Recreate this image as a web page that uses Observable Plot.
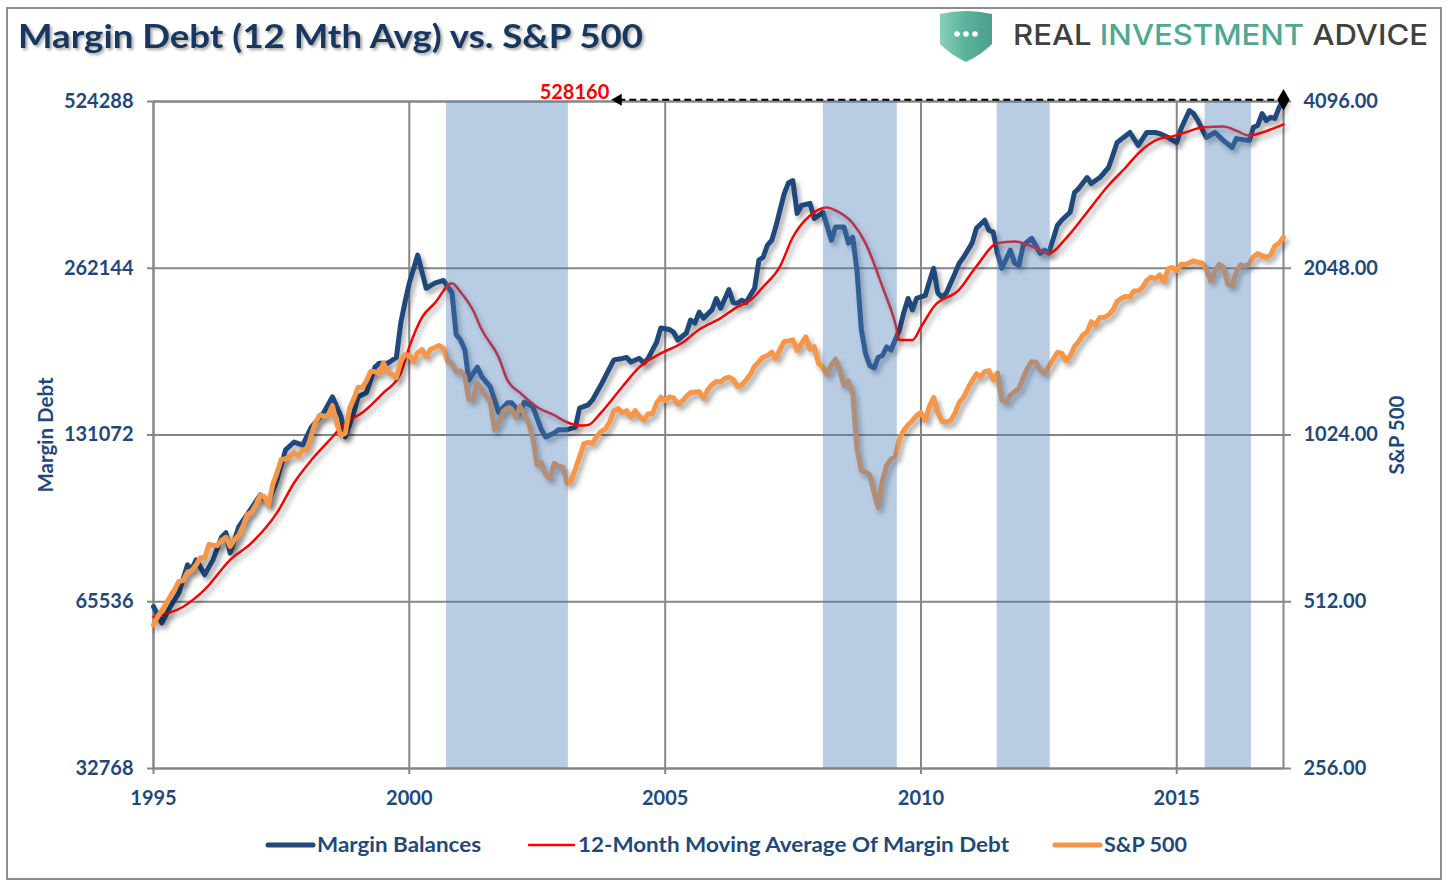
<!DOCTYPE html>
<html>
<head>
<meta charset="utf-8">
<script src="https://cdn.jsdelivr.net/npm/d3@7"></script>
<script src="https://cdn.jsdelivr.net/npm/@observablehq/plot@0.6"></script>
<style>
  html, body { margin: 0; padding: 0; background: #fff; }
  #page { position: relative; width: 1448px; height: 889px; overflow: hidden; font-family: Lato, "Open Sans", sans-serif; }
  #chart { position: absolute; left: 0; top: 0; }
  #deco { position: absolute; left: 0; top: 0; pointer-events: none; }
  #chart g[aria-label="line"] { filter: drop-shadow(3px 4px 2.5px rgba(0,0,0,0.35)); }
  .title { filter: drop-shadow(2px 2px 1.5px rgba(0,0,0,0.35)); }
</style>
</head>
<body>
<div id="page">
  <div id="chart"></div>
  <svg id="deco" width="1448" height="889"></svg>
</div>
<script>
// ---------------- DATA ----------------
// Margin balances (NYSE margin debt, $ millions)
const marginDates = [
  "1995-01","1995-03","1995-05","1995-07","1995-09","1995-10","1995-11","1996-01","1996-03","1996-05",
  "1996-06","1996-07","1996-09","1996-12","1997-02","1997-04","1997-06","1997-08","1997-10","1997-12",
  "1998-02","1998-05","1998-07","1998-09","1998-10","1998-12","1999-01","1999-03","1999-05","1999-06",
  "1999-08","1999-10","1999-11","1999-12","2000-01","2000-03","2000-05","2000-07","2000-09","2000-11",
  "2000-12","2001-01","2001-02","2001-03","2001-05","2001-06","2001-08","2001-10","2001-12","2002-01",
  "2002-03","2002-04","2002-06","2002-08","2002-09","2002-11","2002-12","2003-02","2003-04","2003-05",
  "2003-07","2003-08","2003-10","2003-12","2004-01","2004-03","2004-04","2004-05","2004-07","2004-08",
  "2004-09","2004-11","2004-12","2005-02","2005-03","2005-04","2005-06","2005-07","2005-08","2005-09",
  "2005-10","2005-12","2006-01","2006-02","2006-04","2006-05","2006-06","2006-07","2006-08","2006-10",
  "2006-11","2006-12","2007-01","2007-02","2007-03","2007-05","2007-06","2007-07","2007-08","2007-09",
  "2007-11","2007-12","2008-01","2008-02","2008-04","2008-05","2008-07","2008-08","2008-09","2008-10",
  "2008-11","2008-12","2009-01","2009-02","2009-03","2009-04","2009-05","2009-06","2009-08","2009-09",
  "2009-10","2009-11","2009-12","2010-02","2010-03","2010-04","2010-05","2010-06","2010-07","2010-09",
  "2010-10","2010-11","2011-01","2011-02","2011-04","2011-05","2011-06","2011-07","2011-08","2011-10",
  "2011-11","2011-12","2012-01","2012-03","2012-05","2012-06","2012-07","2012-09","2012-10","2012-12",
  "2013-01","2013-02","2013-04","2013-05","2013-07","2013-09","2013-10","2013-11","2014-02","2014-04",
  "2014-06","2014-08","2014-09","2014-11","2015-01","2015-02","2015-04","2015-05","2015-06","2015-08",
  "2015-10","2015-12","2016-02","2016-03","2016-06","2016-07","2016-08","2016-09","2016-10","2016-11",
  "2016-12","2017-01","2017-02"
];
const marginValues = [
  64200,60000,64200,68000,76400,74900,78000,73300,78000,85800,
  87300,80300,89500,96700,102200,98800,108800,123200,127300,125700,
  135500,143900,153600,141500,130000,143900,153600,156300,173800,176700,
  176700,180900,208700,227300,246400,276800,241200,246400,249200,236600,
  198900,194500,186600,164700,173800,167100,160200,143900,149800,149800,
  143900,150300,147300,134000,130000,132200,134000,134000,135500,146600,
  148600,151600,161500,173100,179100,180200,180900,177500,180200,176700,
  180200,192900,204500,203200,201100,194500,200300,211300,208700,218400,
  213100,220500,231200,222000,239900,227300,226700,229400,227300,241200,
  271100,274400,288500,294500,311100,357700,374200,377400,329300,340300,
  343300,322600,326500,330800,294500,311100,311100,291000,298200,260000,
  203200,184000,174900,173100,180900,182400,189000,186600,203200,218400,
  231200,220500,231200,234100,247500,262100,236600,232300,236600,256700,
  267700,274400,291000,309500,320000,307100,304600,278900,262100,282600,
  267700,265300,288500,296900,278900,282600,278900,313400,320000,330800,
  359100,365400,382200,372800,382200,398500,418900,442000,460900,436700,
  460900,460900,458800,451400,442000,468700,504900,498600,484400,451400,
  460900,445600,433100,449300,445600,470800,474600,498600,484400,490900,
  488600,511300,528160
];

// 12-month moving average of margin debt ($ millions)
const maDates = [
  "1995-01","1995-08","1996-01","1996-07","1996-12","1997-06","1997-10","1998-02","1998-07","1998-10",
  "1999-02","1999-07","1999-11","2000-01","2000-04","2000-07","2000-11","2001-01","2001-04","2001-06",
  "2001-10","2001-12","2002-03","2002-07","2002-11","2003-02","2003-05","2003-07","2003-10","2004-03",
  "2004-07","2004-12","2005-05","2005-09","2006-02","2006-06","2006-09","2006-12","2007-04","2007-07",
  "2007-11","2008-03","2008-05","2008-09","2008-12","2009-04","2009-07","2009-08","2009-11","2010-01",
  "2010-04","2010-10","2011-02","2011-07","2011-11","2012-03","2012-07","2012-11","2013-04","2013-09",
  "2014-01","2014-04","2014-09","2014-12","2015-03","2015-07","2015-12","2016-03","2016-06","2016-09",
  "2017-02"
];
const maValues = [
  61600,64200,68900,78000,83700,94900,107500,118100,130000,137700,
  143900,156300,169400,189000,213700,226700,246400,237500,219900,203200,
  180900,164700,156300,147300,142300,138200,136300,136600,143900,160200,
  173800,184000,192100,203200,213100,223200,229400,242700,264300,298200,
  326500,337600,333400,316100,291000,242700,208700,194500,194500,205300,
  223200,239900,264300,291000,293100,287300,278900,296900,330800,370100,
  398500,422600,449300,453500,460900,470800,472400,464500,455100,460900,
  476600
];

// S&P 500, monthly average price, Jan 1995 .. Feb 2017 (one value per month)
const spStart = "1995-01";
const spValues = [
  465,482,493,508,524,539,557,559,579,583,596,615,
  614,650,647,647,661,669,644,663,675,701,736,743,
  766,798,792,764,833,876,925,928,937,951,939,962,
  963,1024,1077,1112,1108,1108,1157,1075,1021,1032,1144,1190,
  1249,1247,1282,1335,1332,1323,1381,1327,1318,1300,1391,1429,
  1426,1389,1442,1461,1418,1462,1473,1485,1468,1390,1378,1331,
  1336,1306,1186,1190,1270,1239,1204,1179,1045,1077,1130,1145,
  1140,1101,1154,1112,1079,1014,904,913,868,855,910,899,
  896,838,847,890,936,988,993,990,1019,1039,1050,1081,
  1133,1143,1124,1133,1103,1133,1106,1089,1118,1118,1169,1199,
  1181,1200,1195,1164,1178,1202,1222,1224,1226,1192,1237,1262,
  1279,1277,1294,1302,1290,1253,1260,1287,1318,1363,1389,1416,
  1424,1445,1407,1464,1511,1514,1521,1455,1497,1540,1463,1479,
  1379,1355,1317,1370,1403,1341,1257,1281,1217,969,883,878,
  866,805,757,848,902,926,936,1010,1045,1068,1088,1110,
  1124,1089,1152,1197,1125,1083,1080,1087,1122,1172,1199,1242,
  1283,1321,1304,1332,1338,1287,1325,1185,1174,1207,1226,1243,
  1301,1352,1389,1386,1341,1323,1360,1403,1443,1438,1395,1422,
  1480,1512,1551,1571,1640,1619,1669,1670,1687,1720,1784,1808,
  1822,1817,1864,1864,1890,1947,1973,1962,1993,1937,2045,2054,
  2028,2082,2080,2095,2112,2099,2094,2040,1944,2025,2081,2054,
  1919,1904,2022,2076,2066,2084,2149,2177,2158,2143,2165,2247,
  2275,2330
];

// Shaded periods
const bandStarts = ["2000-09-23","2008-02-04","2011-06-29","2015-07-23"];
const bandEnds   = ["2003-02-10","2009-07-16","2012-07-12","2016-06-17"];

// Axes
const leftTicks  = [32768, 65536, 131072, 262144, 524288];
const rightTicks = [256, 512, 1024, 2048, 4096];
const yearTicks  = ["1995-01-01","2000-01-01","2005-01-01","2010-01-01","2015-01-01"];
const xDomain    = ["1995-01-01","2017-02-01"];

// Annotation of the latest margin balance
const peakLabel = 528160;
const peakFrom  = "2004-02-01";
const peakTo    = "2017-02-01";

// Text
const titleText  = "Margin Debt (12 Mth Avg) vs. S&P 500";
const leftLabel  = "Margin Debt";
const rightLabel = "S&P 500";
const legendNames = ["Margin Balances", "12-Month Moving Average Of Margin Debt", "S&P 500"];

// ---------------- BUILD ----------------
const navy = "#1f497d", red = "#ff0000", orange = "#f79646", grid = "#868686";
const parseM = d3.utcParse("%Y-%m");
const parseD = d3.utcParse("%Y-%m-%d");
const ratio = leftTicks[leftTicks.length - 1] / rightTicks[rightTicks.length - 1];

const margin = marginDates.map((d, i) => ({date: parseM(d), value: marginValues[i]}));
const ma = maDates.map((d, i) => ({date: parseM(d), value: maValues[i]}));
const sp = spValues.map((v, i) => ({date: d3.utcMonth.offset(parseM(spStart), i), value: v}));
const bands = bandStarts.map((s, i) => ({x1: parseD(s), x2: parseD(bandEnds[i])}));
const annot = [{x1: parseD(peakFrom), x2: parseD(peakTo), y: peakLabel}];
const yTicks = leftTicks;
const xTicks = yearTicks.map(parseD);

const chart = Plot.plot({
  width: 1448,
  height: 889,
  marginLeft: 153,
  marginRight: 165,
  marginTop: 101,
  marginBottom: 121,
  style: {fontFamily: "Lato, sans-serif", fontSize: "20px", fontWeight: "700", color: navy, background: "transparent", overflow: "visible"},
  x: {type: "utc", domain: xDomain.map(parseD)},
  y: {type: "log", base: 2, domain: [leftTicks[0], leftTicks[leftTicks.length - 1]]},
  marks: [
    Plot.gridY(yTicks, {stroke: grid, strokeOpacity: 1, strokeWidth: 2}),
    Plot.gridX(xTicks, {stroke: grid, strokeOpacity: 1, strokeWidth: 2}),
    Plot.frame({stroke: grid, strokeWidth: 2}),
    Plot.axisY(yTicks, {anchor: "left", tickFormat: d => String(d), tickSize: 6, tickPadding: 14, stroke: grid, strokeWidth: 2, fill: navy, label: null}),
    Plot.axisY(yTicks, {anchor: "right", tickFormat: d => (d / ratio).toFixed(2), tickSize: 7, tickPadding: 13, stroke: grid, strokeWidth: 2, fill: navy, label: null}),
    Plot.axisX(xTicks, {tickFormat: d3.utcFormat("%Y"), tickSize: 6, tickPadding: 16, stroke: grid, strokeWidth: 2, fill: navy, label: null}),
    Plot.text([leftLabel], {frameAnchor: "left", dx: -107, rotate: -90, textAnchor: "middle", fontSize: 20.5, fontWeight: "bold", fill: navy}),
    Plot.text([rightLabel], {frameAnchor: "right", dx: 114, rotate: -90, textAnchor: "middle", fontSize: 20.5, fontWeight: "bold", fill: navy}),
    Plot.line(margin, {x: "date", y: "value", stroke: navy, strokeWidth: 5, strokeLinejoin: "round", strokeLinecap: "round"}),
    Plot.line(ma, {x: "date", y: "value", stroke: red, strokeWidth: 2.5, curve: "monotone-x"}),
    Plot.line(sp, {x: "date", y: d => d.value * ratio, stroke: orange, strokeWidth: 5, strokeLinejoin: "round", strokeLinecap: "round"}),
    Plot.rect(bands, {x1: "x1", x2: "x2", fill: "#4e80bc", fillOpacity: 0.4}),
    Plot.link(annot, {x1: "x1", x2: "x2", y1: "y", y2: "y", stroke: "black", strokeWidth: 2, strokeDasharray: "7,4"}),
    Plot.dot(annot, {x: "x1", y: "y", symbol: "triangle", rotate: -90, r: 4.5, fill: "black", stroke: "none"}),
    Plot.dot(annot, {x: "x2", y: "y", symbol: "diamond", r: 6.5, fill: "black", stroke: "none"}),
    Plot.text(annot, {x: "x1", y: "y", text: d => String(d.y), textAnchor: "end", dx: -9, dy: -7, fill: red, fontSize: 20, fontWeight: "bold"})
  ]
});
document.getElementById("chart").appendChild(chart);

// ---------------- DECORATION (border, title, logo, legend) ----------------
const deco = d3.select("#deco");
deco.append("rect").attr("x", 7).attr("y", 8).attr("width", 1434).attr("height", 871)
  .attr("fill", "none").attr("stroke", "#8c8c8c").attr("stroke-width", 2);

deco.append("text").attr("class", "title").attr("x", 18).attr("y", 48)
  .attr("textLength", 625).attr("lengthAdjust", "spacingAndGlyphs")
  .style("font-family", "Lato, sans-serif").style("font-weight", 700).style("font-size", "33px")
  .attr("fill", "#17375e").text(titleText);

// logo
const defs = deco.append("defs");
const lg = defs.append("linearGradient").attr("id", "shieldGrad").attr("x1", 0).attr("x2", 1).attr("y1", 0).attr("y2", 0);
lg.append("stop").attr("offset", "0%").attr("stop-color", "#86d0b8");
lg.append("stop").attr("offset", "45%").attr("stop-color", "#5db49e");
lg.append("stop").attr("offset", "100%").attr("stop-color", "#4a9e8b");
deco.append("path")
  .attr("d", "M940,14 Q966,8 992,14 L992,44 Q981,55 966,62 Q951,55 940,44 Z")
  .attr("fill", "url(#shieldGrad)");
[957, 966, 975].forEach(cx => deco.append("circle").attr("cx", cx).attr("cy", 34).attr("r", 2.8).attr("fill", "#fff"));
const logo = deco.append("text").attr("x", 1013).attr("y", 45)
  .attr("textLength", 415).attr("lengthAdjust", "spacingAndGlyphs")
  .style("font-family", "Inter, 'Open Sans', sans-serif").style("font-weight", 500).style("font-size", "29px");
logo.append("tspan").attr("fill", "#404040").text("REAL ");
logo.append("tspan").attr("fill", "#4fa892").text("INVESTMENT");
logo.append("tspan").attr("fill", "#404040").text(" ADVICE");

// legend
const legendColors = [navy, red, orange];
const legendWidths = [5, 2.5, 5];
const legendX = [268, 529, 1055];
const legendTextWidths = [164, 431, 83];
legendNames.forEach((name, i) => {
  deco.append("line").attr("x1", legendX[i]).attr("x2", legendX[i] + 45).attr("y1", 845).attr("y2", 845)
    .attr("stroke", legendColors[i]).attr("stroke-width", legendWidths[i]).attr("stroke-linecap", "round");
  deco.append("text").attr("x", legendX[i] + 49).attr("y", 852)
    .attr("textLength", legendTextWidths[i]).attr("lengthAdjust", "spacingAndGlyphs")
    .style("font-family", "Lato, sans-serif").style("font-weight", 700).style("font-size", "21px")
    .attr("fill", navy).text(name);
});
</script>
</body>
</html>
